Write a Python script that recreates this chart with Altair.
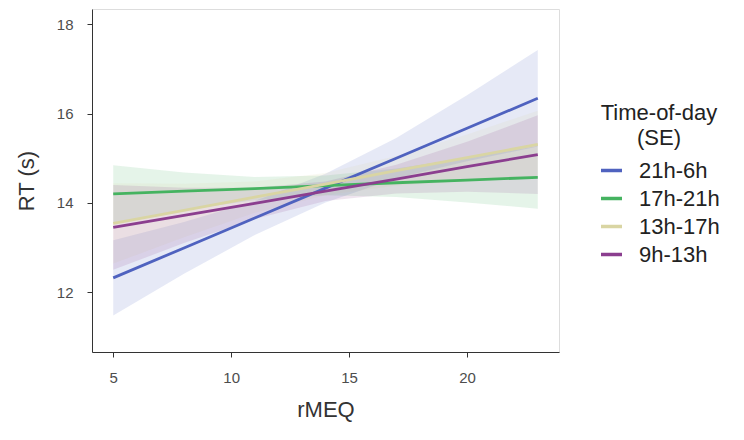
import altair as alt
import pandas as pd

# ---- data ----
x_pts = [5, 8, 11, 14, 17, 20, 23]
series = ["21h-6h", "17h-21h", "13h-17h", "9h-13h"]
line_colors = ["#4f62bf", "#45b360", "#d9d5a3", "#8b3e8f"]

fit_21_6 = [12.32, 12.99, 13.66, 14.33, 15.00, 15.67, 16.34]
lo_21_6 = [11.48, 12.41, 13.28, 14.01, 14.55, 14.93, 15.26]
hi_21_6 = [13.16, 13.57, 14.04, 14.65, 15.45, 16.41, 17.42]

fit_17_21 = [14.20, 14.26, 14.32, 14.385, 14.45, 14.51, 14.57]
lo_17_21 = [13.56, 13.84, 14.06, 14.17, 14.13, 14.01, 13.87]
hi_17_21 = [14.84, 14.68, 14.58, 14.61, 14.77, 15.01, 15.27]

fit_13_17 = [13.54, 13.83, 14.13, 14.42, 14.72, 15.01, 15.31]
lo_13_17 = [12.64, 13.23, 13.78, 14.17, 14.39, 14.49, 14.56]
hi_13_17 = [14.44, 14.43, 14.48, 14.67, 15.05, 15.53, 16.06]

fit_9_13 = [13.45, 13.72, 13.99, 14.26, 14.53, 14.81, 15.08]
lo_9_13 = [12.50, 13.10, 13.64, 14.04, 14.21, 14.25, 14.20]
hi_9_13 = [14.40, 14.34, 14.34, 14.48, 14.85, 15.37, 15.96]

x_ticks = [5, 10, 15, 20]
y_ticks = [12, 14, 16, 18]

fits = [fit_21_6, fit_17_21, fit_13_17, fit_9_13]
los = [lo_21_6, lo_17_21, lo_13_17, lo_9_13]
his = [hi_21_6, hi_17_21, hi_13_17, hi_9_13]

rows = []
for s, f, lo, hi in zip(series, fits, los, his):
    for i, xv in enumerate(x_pts):
        rows.append({"rMEQ": xv, "fit": f[i], "lo": lo[i], "hi": hi[i], "tod": s})
df = pd.DataFrame(rows)

FONT = "Liberation Sans"
xscale = alt.Scale(domain=[4.1, 23.9], nice=False, zero=False)
yscale = alt.Scale(domain=[10.66, 18.34], nice=False, zero=False)
cscale = alt.Scale(domain=series, range=line_colors)

base = alt.Chart(df)

bands = base.mark_area(opacity=0.14).encode(
    x=alt.X("rMEQ:Q", scale=xscale),
    y=alt.Y("lo:Q", scale=yscale),
    y2="hi:Q",
    fill=alt.Fill("tod:N", scale=cscale, legend=None),
)

lines = base.mark_line(strokeWidth=2.8).encode(
    x=alt.X(
        "rMEQ:Q",
        scale=xscale,
        axis=alt.Axis(
            title="rMEQ",
            values=x_ticks,
            grid=False,
            labelFontSize=15,
            labelColor="#4d4d4d",
            labelPadding=13,
            titleFontSize=22,
            titleFontWeight="normal",
            titleColor="#333333",
            titlePadding=14,
            tickSize=5,
            domainColor="#333333",
            tickColor="#333333",
            labelFont=FONT,
            titleFont=FONT,
        ),
    ),
    y=alt.Y(
        "fit:Q",
        scale=yscale,
        axis=alt.Axis(
            title="RT (s)",
            values=y_ticks,
            grid=False,
            labelFontSize=15,
            labelColor="#4d4d4d",
            labelPadding=14,
            titleFontSize=22,
            titleFontWeight="normal",
            titleColor="#333333",
            titlePadding=18,
            tickSize=5,
            domainColor="#333333",
            tickColor="#333333",
            labelFont=FONT,
            titleFont=FONT,
        ),
    ),
    color=alt.Color(
        "tod:N",
        scale=cscale,
        sort=series,
        legend=alt.Legend(
            title=["Time-of-day", "(SE)"],
            orient="none",
            legendX=507,
            legendY=94,
            titleFontSize=22,
            titleFontWeight="normal",
            titleColor="#222222",
            titleAnchor="middle",
            titleAlign="center",
            titleLineHeight=25,
            titlePadding=8,
            titleFont=FONT,
            labelFont=FONT,
            labelFontSize=22,
            labelColor="#222222",
            labelOffset=15,
            symbolType="stroke",
            symbolSize=441,
            symbolStrokeWidth=3.5,
            rowPadding=4,
            padding=0,
        ),
    ),
)

chart = (
    alt.layer(bands, lines)
    .resolve_legend(fill="independent", color="independent")
    .properties(
        width=467,
        height=343,
        autosize=alt.AutoSizeParams(type="none"),
        padding={"left": 84, "top": 1, "right": 170, "bottom": 70},
    )
    .configure_view(stroke=None)
    .configure(background="white")
)

chart.save("out.html", embed_options={"renderer": "svg", "actions": False})
